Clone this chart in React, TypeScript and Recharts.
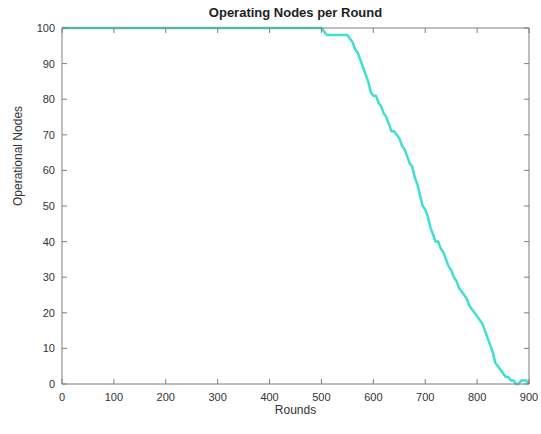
import React from 'react';
import { LineChart, Line, XAxis, YAxis } from 'recharts';

const rounds = [
  0, 500, 505, 510, 550, 555, 560, 565, 570, 575, 580, 585, 590, 595, 600, 605, 610, 615, 620, 625,
  630, 635, 640, 645, 650, 655, 660, 665, 670, 675, 680, 685, 690, 695, 700, 705, 710, 715, 720, 725,
  730, 735, 740, 745, 750, 755, 760, 765, 770, 775, 780, 785, 790, 795, 800, 805, 810, 815, 820, 825,
  830, 835, 840, 845, 850, 855, 860, 865, 870, 875, 880, 885, 890, 895, 900,
];
const nodes = [
  100, 100, 99, 98, 98, 97, 96, 94, 93, 91, 89, 87, 85, 82, 81, 81, 79, 78, 76, 75,
  73, 71, 71, 70, 69, 67, 66, 64, 62, 61, 58, 56, 53, 50, 49, 47, 44, 42, 40, 40,
  38, 37, 35, 33, 32, 30, 29, 27, 26, 25, 24, 22, 21, 20, 19, 18, 17, 15, 13, 11,
  9, 6, 5, 4, 3, 2, 2, 1, 1, 0, 0, 1, 1, 1, 0,
];
const xTicks = [0, 100, 200, 300, 400, 500, 600, 700, 800, 900];
const yTicks = [0, 10, 20, 30, 40, 50, 60, 70, 80, 90, 100];

const data = rounds.map((r, i) => ({ round: r, nodes: nodes[i] }));

const FONT = '"Liberation Sans", Arial, sans-serif';
const AXIS = '#7f7f7f';

// ticks drawn inward like matlab, labels outside
const BottomTick = (props: any) => {
  const { x, y, payload } = props;
  return (
    <g>
      <line x1={x} y1={y} x2={x} y2={y - 5} stroke={AXIS} strokeWidth={1} />
      <text x={x} y={y + 17} textAnchor="middle" fontSize={11} fill="#333" fontFamily={FONT}>
        {payload.value}
      </text>
    </g>
  );
};
const LeftTick = (props: any) => {
  const { x, y, payload } = props;
  return (
    <g>
      <line x1={x} y1={y} x2={x + 5} y2={y} stroke={AXIS} strokeWidth={1} />
      <text x={x - 7} y={y + 4} textAnchor="end" fontSize={11} fill="#333" fontFamily={FONT}>
        {payload.value}
      </text>
    </g>
  );
};
const TopTick = (props: any) => {
  const { x, y } = props;
  return <line x1={x} y1={y} x2={x} y2={y + 5} stroke={AXIS} strokeWidth={1} />;
};
const RightTick = (props: any) => {
  const { x, y } = props;
  return <line x1={x} y1={y} x2={x - 5} y2={y} stroke={AXIS} strokeWidth={1} />;
};

export default function App() {
  return (
    <div style={{ position: 'absolute', left: 0, top: 0, width: 541, height: 434, background: '#fff' }}>
      <div
        style={{
          position: 'absolute', top: 5, left: 0, width: 591, textAlign: 'center',
          fontFamily: FONT, fontWeight: 'bold', fontSize: 13, color: '#222',
        }}
      >
        Operating Nodes per Round
      </div>
      <LineChart width={541} height={434} data={data} margin={{ top: 27, right: 11, bottom: 0, left: 22 }}>
        <XAxis
          dataKey="round" type="number" domain={[0, 900]} ticks={xTicks} height={50}
          axisLine={{ stroke: AXIS }} tickLine={false} tickSize={0} tickMargin={0} tick={<BottomTick />}
          interval={0}
          label={{ value: 'Rounds', position: 'insideBottom', offset: 20, fontSize: 12, fill: '#333', fontFamily: FONT }}
        />
        <XAxis
          xAxisId="top" orientation="top" dataKey="round" type="number" domain={[0, 900]} ticks={xTicks}
          height={1} axisLine={{ stroke: AXIS }} tickLine={false} tickSize={0} tickMargin={0} tick={<TopTick />}
          interval={0}
        />
        <YAxis
          type="number" domain={[0, 100]} ticks={yTicks} width={40} interval={0}
          axisLine={{ stroke: AXIS }} tickLine={false} tickSize={0} tickMargin={0} tick={<LeftTick />}
          label={{ value: 'Operational Nodes', angle: -90, position: 'insideLeft', offset: -4, fontSize: 12, fill: '#333', fontFamily: FONT }}
        />
        <YAxis
          yAxisId="right" orientation="right" type="number" domain={[0, 100]} ticks={yTicks} width={1}
          interval={0} axisLine={{ stroke: AXIS }} tickLine={false} tickSize={0} tickMargin={0} tick={<RightTick />}
        />
        <Line
          xAxisId="top" yAxisId="right" dataKey="nodes" type="linear" stroke="none" dot={false}
          legendType="none" isAnimationActive={false}
        />
        <Line
          dataKey="nodes" type="linear" stroke="#3fe0d2" strokeWidth={2.5} dot={false}
          isAnimationActive={false}
        />
      </LineChart>
    </div>
  );
}
